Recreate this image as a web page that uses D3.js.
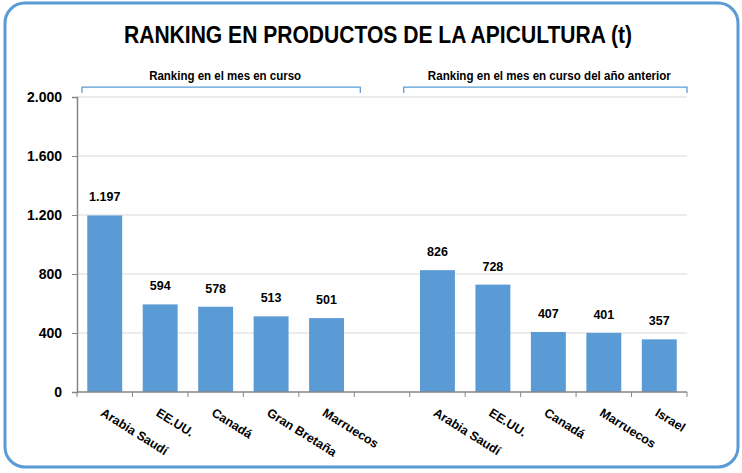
<!DOCTYPE html>
<html>
<head>
<meta charset="utf-8">
<script src="https://cdn.jsdelivr.net/npm/d3@7"></script>
<style>
  body { margin: 0; background: #fff; }
  text { font-family: "Liberation Sans", Arial, sans-serif; font-weight: bold; fill: #000; }
</style>
</head>
<body>
<div id="chart"></div>
<script>
// data
const title = "RANKING EN PRODUCTOS DE LA APICULTURA (t)";
const groupLabels = ["Ranking en el mes en curso", "Ranking en el mes en curso del año anterior"];
const categoriesCurrent = ["Arabia Saudí", "EE.UU.", "Canadá", "Gran Bretaña", "Marruecos"];
const valuesCurrent = [1197, 594, 578, 513, 501];
const categoriesPrevious = ["Arabia Saudí", "EE.UU.", "Canadá", "Marruecos", "Israel"];
const valuesPrevious = [826, 728, 407, 401, 357];
const yTicks = [0, 400, 800, 1200, 1600, 2000];

const W = 742, H = 473;
const margin = {L: 77, R: 55, T: 97, B: 81};
const blue = "#5B9BD5";

// one empty slot between the two groups
let rows = [];
categoriesCurrent.forEach((c, i) => rows.push({key: "a" + i, name: c, value: valuesCurrent[i]}));
rows.push({key: "gap", name: "", value: null});
categoriesPrevious.forEach((c, i) => rows.push({key: "b" + i, name: c, value: valuesPrevious[i]}));

const locale = d3.formatLocale({decimal: ",", thousands: ".", grouping: [3], currency: ["", " €"]});
const fmt = locale.format(",d");

const svg = d3.select("#chart").append("svg")
  .attr("width", W)
  .attr("height", H);

// frame
svg.append("rect")
  .attr("x", 5).attr("y", 3)
  .attr("width", 733).attr("height", 464)
  .attr("rx", 20).attr("ry", 20)
  .attr("fill", "#fff")
  .attr("stroke", blue)
  .attr("stroke-width", 3);

svg.append("text")
  .attr("x", 378).attr("y", 43)
  .attr("text-anchor", "middle")
  .attr("textLength", 508)
  .attr("lengthAdjust", "spacingAndGlyphs")
  .style("font-size", "24px")
  .text(title);

const x = d3.scaleBand()
  .domain(rows.map(d => d.key))
  .range([margin.L, W - margin.R])
  .paddingInner(0.37)
  .paddingOuter(0.185);

const y = d3.scaleLinear()
  .domain([0, 2000])
  .range([H - margin.B, margin.T]);

// gridlines
svg.append("g")
  .selectAll("line")
  .data(yTicks.filter(t => t > 0))
  .join("line")
  .attr("x1", margin.L).attr("x2", W - margin.R)
  .attr("y1", d => y(d)).attr("y2", d => y(d))
  .attr("stroke", "#D9D9D9")
  .attr("stroke-width", 1);

// y axis
const yAxis = svg.append("g")
  .attr("transform", `translate(${margin.L},0)`)
  .call(d3.axisLeft(y).tickValues(yTicks).tickSize(5).tickPadding(10).tickFormat(fmt));
yAxis.select(".domain").attr("stroke", "#868686").attr("stroke-width", 1.5);
yAxis.selectAll(".tick line").attr("stroke", "#868686");
yAxis.selectAll(".tick text")
  .style("font-size", "14px")
  .attr("fill", "#000");

// bars
svg.append("g")
  .selectAll("rect")
  .data(rows.filter(d => d.value !== null))
  .join("rect")
  .attr("x", d => x(d.key))
  .attr("y", d => y(d.value))
  .attr("width", x.bandwidth())
  .attr("height", d => y(0) - y(d.value))
  .attr("fill", blue);

// value labels
svg.append("g")
  .selectAll("text")
  .data(rows.filter(d => d.value !== null))
  .join("text")
  .attr("x", d => x(d.key) + x.bandwidth() / 2)
  .attr("y", d => y(d.value) - 14)
  .attr("text-anchor", "middle")
  .style("font-size", "12.5px")
  .text(d => fmt(d.value));

// x axis line with ticks at slot boundaries
const step = x.step();
const x0 = margin.L;
svg.append("line")
  .attr("x1", x0).attr("x2", W - margin.R)
  .attr("y1", y(0)).attr("y2", y(0))
  .attr("stroke", "#868686").attr("stroke-width", 1.5);
svg.append("g")
  .selectAll("line")
  .data(d3.range(rows.length + 1))
  .join("line")
  .attr("x1", i => x0 + i * step).attr("x2", i => x0 + i * step)
  .attr("y1", y(0)).attr("y2", y(0) + 5)
  .attr("stroke", "#868686");

// category labels
svg.append("g")
  .selectAll("text")
  .data(rows.filter(d => d.name))
  .join("text")
  .attr("transform", d => `translate(${x(d.key) + x.bandwidth() / 2 - 5},${y(0) + 23}) rotate(32)`)
  .style("font-size", "12.5px")
  .text(d => d.name);

// group brackets
const groups = [
  {label: groupLabels[0], x1: x0 + 5, x2: x0 + 5 * step + 6, w: 152},
  {label: groupLabels[1], x1: x0 + 6 * step - 6, x2: x0 + 11 * step, w: 243}
];
const bracketTop = 87;
svg.append("g")
  .selectAll("path")
  .data(groups)
  .join("path")
  .attr("d", d => `M${d.x1},${bracketTop + 6}V${bracketTop}H${d.x2}V${bracketTop + 6}`)
  .attr("fill", "none")
  .attr("stroke", blue)
  .attr("stroke-width", 1.25);
svg.append("g")
  .selectAll("text")
  .data(groups)
  .join("text")
  .attr("x", d => (d.x1 + d.x2) / 2 + 4)
  .attr("y", 80)
  .attr("text-anchor", "middle")
  .attr("textLength", d => d.w)
  .attr("lengthAdjust", "spacingAndGlyphs")
  .style("font-size", "12px")
  .text(d => d.label);
</script>
</body>
</html>
